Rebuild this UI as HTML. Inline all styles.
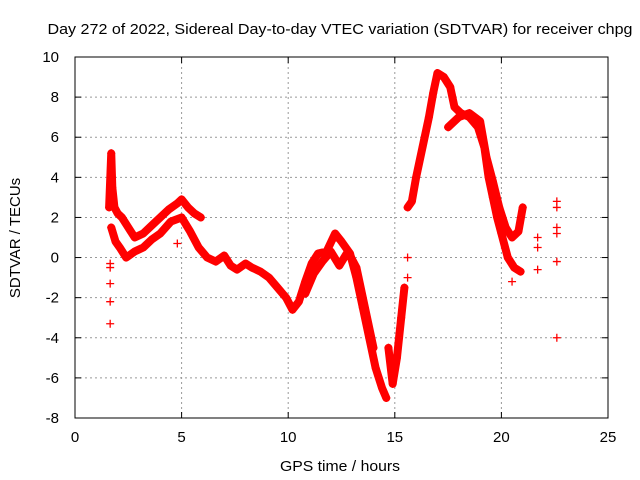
<!DOCTYPE html>
<html><head><meta charset="utf-8"><style>
body{margin:0;background:#fff}
svg{display:block;font-family:"Liberation Sans",sans-serif}
</style></head><body>
<svg width="640" height="480" viewBox="0 0 640 480" id="c">
<rect width="640" height="480" fill="#fff"/>
<text x="340" y="34" text-anchor="middle" font-size="15" textLength="585" lengthAdjust="spacingAndGlyphs">Day 272 of 2022, Sidereal Day-to-day VTEC variation (SDTVAR) for receiver chpg</text>
<text x="340" y="471" text-anchor="middle" font-size="15" textLength="120" lengthAdjust="spacingAndGlyphs">GPS time / hours</text>
<text transform="translate(20,238) rotate(-90)" text-anchor="middle" font-size="15">SDTVAR / TECUs</text>
<g id="grid"></g><g id="marks"></g><g id="axes"></g>
</svg>
<script>
const xTicks=[0,5,10,15,20,25];
const yTicks=[-8,-6,-4,-2,0,2,4,6,8,10];
const tA=[1.6,1.7,1.75,1.85,2.0,2.2,2.5,2.8,3.2,3.6,4.0,4.4,4.8,5.0,5.3,5.6,5.9];
const vA=[2.5,5.2,3.5,2.5,2.2,2.0,1.5,1.0,1.2,1.6,2.0,2.4,2.7,2.9,2.5,2.2,2.0];
const tB=[1.7,1.9,2.1,2.4,2.8,3.2,3.6,4.0,4.5,5.0,5.4,5.8,6.2,6.6,7.0,7.3,7.6,8.0,8.3,8.7,9.1,9.5,9.9,10.2,10.5,10.8,11.1,11.4,11.8,12.2,12.5,12.9,13.2,13.5,13.8,14.1,14.4,14.6];
const vB=[1.5,0.8,0.5,0.0,0.3,0.5,0.9,1.2,1.8,2.0,1.3,0.5,0.0,-0.2,0.1,-0.4,-0.6,-0.3,-0.5,-0.7,-1.0,-1.5,-2.0,-2.6,-2.2,-1.2,-0.3,0.2,0.3,1.2,0.8,0.2,-1,-2.5,-4,-5.5,-6.5,-7];
const tC=[10.8,11.2,11.6,12.0,12.4,12.8,13.2,13.6,14.0];
const vC=[-1.8,-0.8,-0.2,0.3,-0.4,0.3,-0.5,-2.5,-4.5];
const tD=[14.7,14.9,15.1,15.3,15.45];
const vD=[-4.5,-6.3,-5,-3,-1.5];
const tE=[15.6,15.8,16.0,16.3,16.6,16.8,17.0,17.3,17.6,17.8,18.1,18.5,18.9,19.2,19.4,19.6,19.8,20.0,20.3,20.6,20.9];
const vE=[2.5,2.8,4,5.5,7,8.2,9.2,9.0,8.5,7.5,7.2,7.0,6.5,5.5,4.0,3.0,2.0,1.2,0.0,-0.5,-0.7];
const tF=[17.5,18.0,18.5,19.0,19.3,19.6,19.9,20.2,20.5,20.8,21.0];
const vF=[6.5,7.0,7.2,6.8,5.0,3.8,2.5,1.5,1.0,1.3,2.5];
const tS=[1.65,1.65,1.65,1.65,1.65,4.8,15.6,15.6,20.5,21.7,21.7,21.7,22.6,22.6,22.6,22.6,22.6,22.6];
const vS=[-0.3,-0.5,-1.3,-2.2,-3.3,0.7,-1.0,0.0,-1.2,1.0,0.5,-0.6,2.8,2.5,1.5,1.2,-0.2,-4.0];
const NS="http://www.w3.org/2000/svg";
const X0=75,X1=608,Y0=418,Y1=57;
function sx(t){return X0+(t-0)/(25-0)*(X1-X0);}
function sy(v){return Y0-(v+8)/(10+8)*(Y0-Y1);}
function el(tag,attrs,parent){const e=document.createElementNS(NS,tag);for(const k in attrs)e.setAttribute(k,attrs[k]);parent.appendChild(e);return e;}
const grid=document.getElementById('grid'),marks=document.getElementById('marks'),axes=document.getElementById('axes');
xTicks.forEach(t=>{
 if(t>0&&t<25){const g=el('line',{x1:sx(t),x2:sx(t),y1:Y1,y2:Y0,stroke:'#999','stroke-dasharray':'2,3'},grid);
 
 }
 const k=el('line',{x1:sx(t),x2:sx(t),y1:Y0,y2:Y0-6,stroke:'#000'},axes);
 
 
 const k2=el('line',{x1:sx(t),x2:sx(t),y1:Y1,y2:Y1+6,stroke:'#000'},axes);
 
 
 const l=el('text',{x:sx(t),y:Y0+24,'text-anchor':'middle','font-size':15},axes);l.textContent=t;
 
 
});
yTicks.forEach(v=>{
 if(v>-8&&v<10){const g=el('line',{x1:X0,x2:X1,y1:sy(v),y2:sy(v),stroke:'#999','stroke-dasharray':'2,3'},grid);
 
 }
 const k=el('line',{x1:X0,x2:X0+6,y1:sy(v),y2:sy(v),stroke:'#000'},axes);
 
 
 const k2=el('line',{x1:X1,x2:X1-6,y1:sy(v),y2:sy(v),stroke:'#000'},axes);
 
 
 const l=el('text',{x:X0-16,y:sy(v)+5,'text-anchor':'end','font-size':15},axes);l.textContent=v;
 
 
});
const fr=el('rect',{x:X0,y:Y1,width:X1-X0,height:Y0-Y1,fill:'none',stroke:'#000'},axes);


function plus(t,v){const p=el('path',{d:`M${sx(t)-4},${sy(v)}h8M${sx(t)},${sy(v)-4}v8`,stroke:'#f00','stroke-width':1.3},marks);
 
 }
[[tA,vA],[tB,vB],[tC,vC],[tD,vD],[tE,vE],[tF,vF]].forEach(([ts,vs],i)=>{
 const pl=el('polyline',{points:ts.map((t,j)=>sx(t)+','+sy(vs[j])).join(' '),fill:'none',stroke:'#f00','stroke-width':8,'stroke-linejoin':'round','stroke-linecap':'round'},marks);
 
 
 ts.forEach((t,j)=>plus(t,vs[j]));
});
tS.forEach((t,j)=>plus(t,vS[j]));
</script>
</body></html>
